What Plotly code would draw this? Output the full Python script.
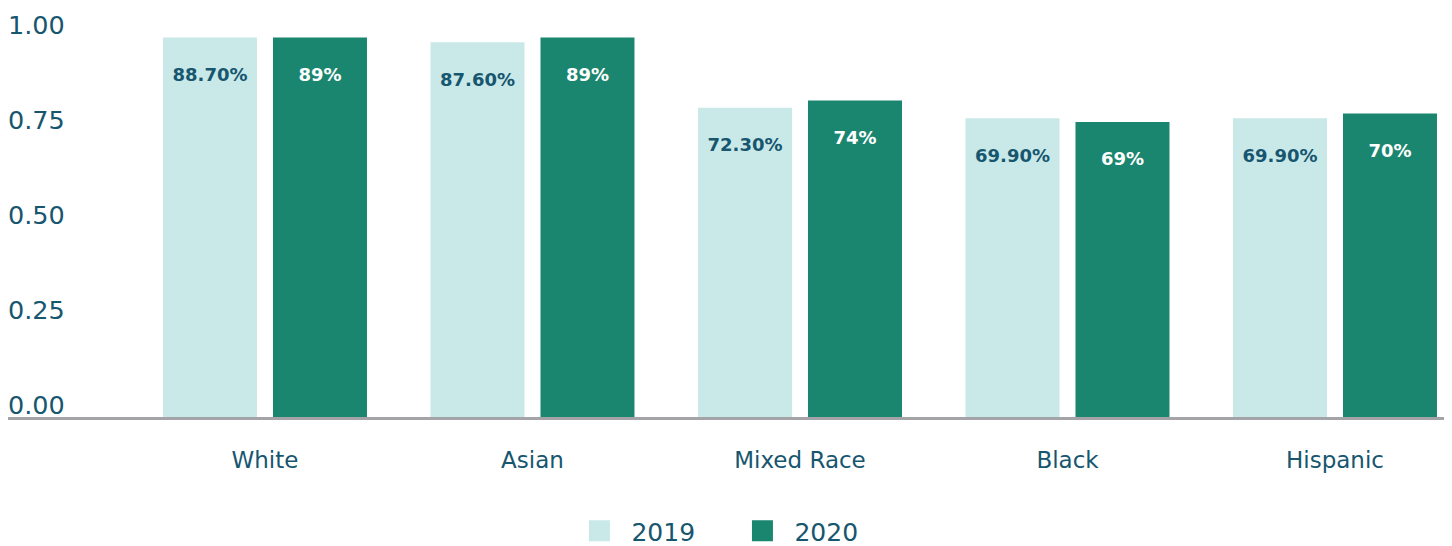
import plotly.graph_objects as go

categories = ["White", "Asian", "Mixed Race", "Black", "Hispanic"]
values_2019 = [0.887, 0.876, 0.723, 0.699, 0.699]
values_2020 = [0.887, 0.887, 0.74, 0.69, 0.71]
labels_2019 = ["88.70%", "87.60%", "72.30%", "69.90%", "69.90%"]
labels_2020 = ["89%", "89%", "74%", "69%", "70%"]
tick_fractions = [0.0, 0.25, 0.5, 0.75, 1.0]

C2019 = "#c9e9e8"
C2020 = "#1a866f"
TXT = "#17566f"
FONT = "DejaVu Sans"

top_value = max(values_2019 + values_2020)
tickvals = [top_value * f for f in tick_fractions]
ticktext = [f"{f:.2f}" for f in tick_fractions]

PX_PER_UNIT = 429.0

fig = go.Figure()
fig.add_trace(go.Bar(
    x=categories, y=values_2019, name="2019", marker=dict(color=C2019, line=dict(width=0)),
    text=labels_2019, texttemplate="\u00a0<br>%{text}", textposition="inside", insidetextanchor="end",
    textfont=dict(family=FONT, size=18, color=TXT, weight="bold"), showlegend=False,
    textangle=0, constraintext="none",
))
fig.add_trace(go.Bar(
    x=categories, y=values_2020, name="2020", marker=dict(color=C2020, line=dict(width=0)),
    text=labels_2020, texttemplate="\u00a0<br>%{text}", textposition="inside", insidetextanchor="end",
    textfont=dict(family=FONT, size=18, color="white", weight="bold"), showlegend=False,
    textangle=0, constraintext="none",
))
# legend entries
for nm, col in [("2019", C2019), ("2020", C2020)]:
    fig.add_trace(go.Scatter(
        x=[None], y=[None], mode="markers", name=nm,
        marker=dict(symbol="square", size=16, color=col, line=dict(color=col, width=5)),
    ))

fig.update_layout(
    width=1452, height=546,
    margin=dict(l=0, r=14, t=0, b=126, autoexpand=False),
    paper_bgcolor="white", plot_bgcolor="white",
    barmode="group", bargap=0.1776, bargroupgap=0.1455,
    font=dict(family=FONT, color=TXT),
    legend=dict(orientation="h", x=0.5024, xanchor="center", y=0, yanchor="bottom",
                yref="container", font=dict(family=FONT, size=25, color=TXT),
                itemwidth=54, entrywidth=94, entrywidthmode="pixels"),
    xaxis=dict(range=[-0.9607, 4.415], showline=False,
               ticks="", showgrid=False, zeroline=False, ticklabelstandoff=16,
               tickfont=dict(family=FONT, size=23, color=TXT)),
    yaxis=dict(range=[-10 / PX_PER_UNIT, 410 / PX_PER_UNIT], showline=False, showgrid=False,
               zeroline=True, zerolinecolor="#a3a3a8", zerolinewidth=3, zerolinelayer="above traces",
               tickvals=tickvals, ticktext=ticktext, ticks="",
               ticklabelposition="inside top", ticklabelshift=5, ticklabelstandoff=-3,
               tickfont=dict(family=FONT, size=25.5, color=TXT)),
)

fig.write_html("out.html")
